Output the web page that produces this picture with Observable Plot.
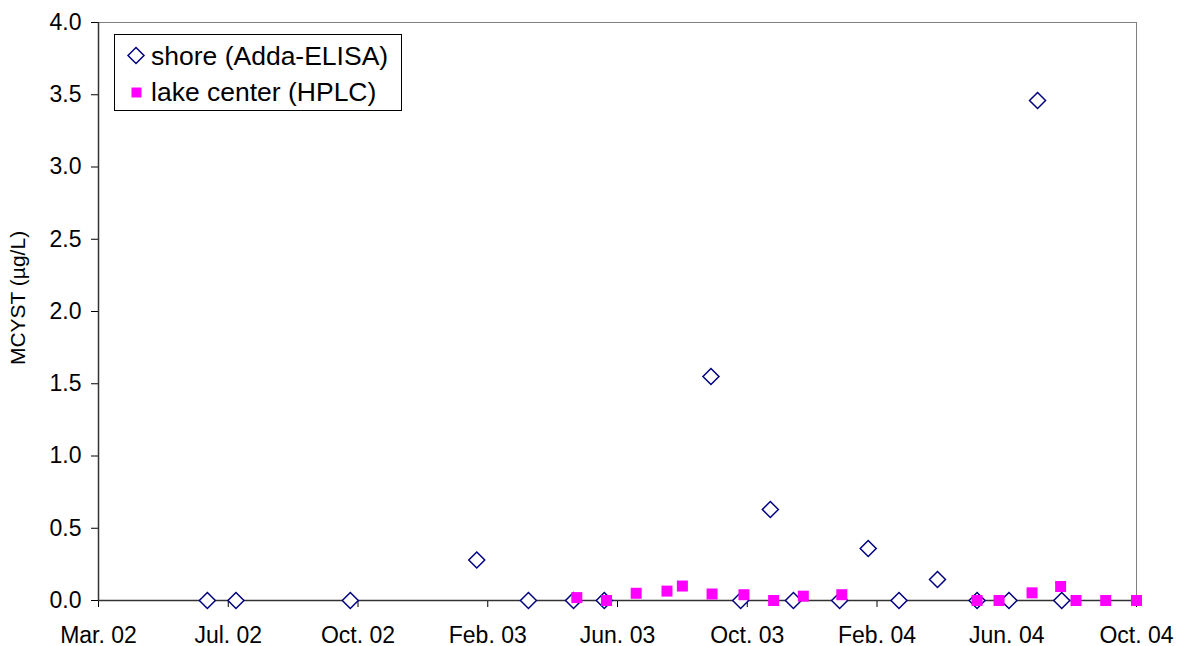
<!DOCTYPE html>
<html><head><meta charset="utf-8">
<script src="https://cdn.jsdelivr.net/npm/d3@7"></script>
<script src="https://cdn.jsdelivr.net/npm/@observablehq/plot@0.6"></script>
<style>
body{margin:0;background:#fff;font-family:"Liberation Sans",Arial,sans-serif;}
#wrap{position:relative;width:1183px;height:646px;}
#legend{position:absolute;left:114px;top:34px;}
</style></head><body><div id="wrap"><div id="chart"></div>
<svg id="legend" width="289" height="78" style="font-family:'Liberation Sans',Arial,sans-serif;font-size:26.5px;">
  <rect x="0.5" y="0.5" width="287" height="76" fill="#fff" stroke="#000" stroke-width="1"/>
  <path d="M22,13.5L30,21.5L22,29.5L14,21.5Z" fill="#fff" stroke="#000080" stroke-width="1.5"/>
  <rect x="17.5" y="53.5" width="10" height="10" fill="#ff00ff"/>
  <text id="leg1" x="37" y="30.5" fill="#000"></text>
  <text id="leg2" x="37" y="67" fill="#000"></text>
</svg></div>
<script>
// shore (Adda-ELISA)
const shoreDates = ["2002-06-12","2002-07-08","2002-10-20","2003-02-12","2003-03-31","2003-05-11","2003-06-08","2003-09-13","2003-10-10","2003-11-06","2003-11-27","2004-01-08","2004-02-03","2004-03-02","2004-04-06","2004-05-12","2004-06-10","2004-07-06","2004-07-28"];
const shoreValues = [0,0,0,0.28,0,0,0,1.55,0,0.63,0,0,0.36,0,0.145,0,0,3.46,0];
// lake center (HPLC)
const lakeDates = ["2003-05-14","2003-06-10","2003-07-07","2003-08-04","2003-08-18","2003-09-14","2003-10-13","2003-11-09","2003-12-06","2004-01-10","2004-05-12","2004-06-01","2004-07-01","2004-07-27","2004-08-10","2004-09-06","2004-10-04"];
const lakeValues = [0.02,0,0.05,0.065,0.10,0.045,0.04,0,0.03,0.04,0,0,0.053,0.097,0,0,0];
// axes
const tickDates = ["2002-03-05","2002-07-01","2002-10-27","2003-02-22","2003-06-20","2003-10-16","2004-02-11","2004-06-08","2004-10-04"];
const tickLabels = ["Mar. 02","Jul. 02","Oct. 02","Feb. 03","Jun. 03","Oct. 03","Feb. 04","Jun. 04","Oct. 04"];
const yTicks = [0,0.5,1,1.5,2,2.5,3,3.5,4];
const yLabel = "MCYST (µg/L)";
const seriesNames = ["shore (Adda-ELISA)","lake center (HPLC)"];

document.getElementById("leg1").textContent = seriesNames[0];
document.getElementById("leg2").textContent = seriesNames[1];

const parse = d3.utcParse("%Y-%m-%d");
const shore = shoreDates.map((d,i)=>({date:parse(d), v:shoreValues[i]}));
const lake = lakeDates.map((d,i)=>({date:parse(d), v:lakeValues[i]}));
const ticks = tickDates.map(parse);
const labelMap = new Map(ticks.map((d,i)=>[+d, tickLabels[i]]));

const diamondSym = {draw(ctx, size){const r=Math.sqrt(size/Math.PI); ctx.moveTo(0,-r); ctx.lineTo(r,0); ctx.lineTo(0,r); ctx.lineTo(-r,0); ctx.closePath();}};
const squareSym = {draw(ctx, size){const r=Math.sqrt(size/Math.PI); ctx.rect(-r,-r,2*r,2*r);}};

const chart = Plot.plot({
  width:1183, height:646,
  marginLeft:98, marginRight:47, marginTop:22, marginBottom:46,
  style:{fontFamily:'"Liberation Sans", Arial, sans-serif', fontSize:"23px", color:"#000", background:"#fff", overflow:"visible"},
  x:{type:"utc", domain:[ticks[0], ticks[ticks.length-1]], ticks:ticks, tickFormat:d=>labelMap.get(+d), tickSize:7, tickPadding:19, label:null},
  y:{domain:[0,4], ticks:yTicks, tickFormat:d=>d.toFixed(1), tickSize:7, tickPadding:10, label:null},
  marks:[
    Plot.ruleY([4], {stroke:"#808080", strokeWidth:1}),
    Plot.ruleX([ticks[ticks.length-1]], {stroke:"#808080", strokeWidth:1}),
    Plot.ruleX([ticks[0]], {stroke:"#333", strokeWidth:1.5}),
    Plot.ruleY([0], {stroke:"#333", strokeWidth:1.5}),
    Plot.dot(shore, {x:"date", y:"v", symbol:diamondSym, r:8, stroke:"#000080", fill:"#fff", strokeWidth:1.5}),
    Plot.dot(lake, {x:"date", y:"v", symbol:squareSym, r:5.5, fill:"#ff00ff", stroke:"none"})
  ]
});
document.getElementById("chart").appendChild(chart);
d3.select(chart).append("text")
  .attr("transform","translate(25,298) rotate(-90)")
  .attr("text-anchor","middle")
  .attr("fill","#000")
  .style("font-size","21px")
  .text(yLabel);
</script>
</body></html>
